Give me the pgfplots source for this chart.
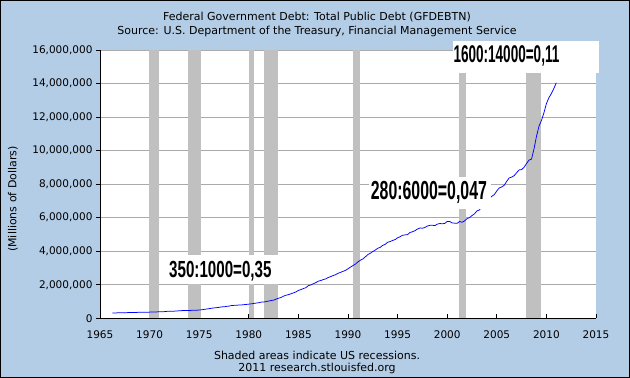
\documentclass[border=0pt]{standalone}
\usepackage{pgfplots}
\pgfplotsset{compat=1.18}
\usepackage{pgfplotstable}
\usepackage{graphicx}
\usepackage{fontspec}
\setmainfont{DejaVu Sans}
\newfontfamily\annf{Liberation Sans}
\definecolor{bgblue}{RGB}{180,205,230}
\definecolor{recgray}{RGB}{192,192,192}
\definecolor{gridgray}{RGB}{170,170,170}

\pgfplotstableread{
year debt
1966.25 321000
1966.50 316000
1966.75 325000
1967.00 329000
1967.25 331000
1967.50 323000
1967.75 338000
1968.00 345000
1968.25 348000
1968.50 348000
1968.75 353000
1969.00 358000
1969.25 361000
1969.50 354000
1969.75 366000
1970.00 368000
1970.25 372000
1970.50 371000
1970.75 383000
1971.00 389000
1971.25 391000
1971.50 398000
1971.75 414000
1972.00 424000
1972.25 427000
1972.50 427000
1972.75 437000
1973.00 449000
1973.25 458000
1973.50 458000
1973.75 468000
1974.00 469000
1974.25 474000
1974.50 475000
1974.75 483000
1975.00 493000
1975.25 509000
1975.50 533000
1975.75 554000
1976.00 576000
1976.25 599000
1976.50 620000
1976.75 635000
1977.00 653000
1977.25 680000
1977.50 685000
1977.75 710000
1978.00 729000
1978.25 760000
1978.50 771000
1978.75 780000
1979.00 789000
1979.25 796000
1979.50 812000
1979.75 827000
1980.00 845000
1980.25 864000
1980.50 883000
1980.75 908000
1981.00 930000
1981.25 964000
1981.50 971000
1981.75 997000
1982.00 1028000
1982.25 1061000
1982.50 1084000
1982.75 1142000
1983.00 1197000
1983.25 1244000
1983.50 1319000
1983.75 1377000
1984.00 1410000
1984.25 1463000
1984.50 1517000
1984.75 1572000
1985.00 1663000
1985.25 1710000
1985.50 1774000
1985.75 1823000
1986.00 1945000
1986.25 1986000
1986.50 2059000
1986.75 2125000
1987.00 2214000
1987.25 2250000
1987.50 2309000
1987.75 2350000
1988.00 2431000
1988.25 2487000
1988.50 2547000
1988.75 2602000
1989.00 2684000
1989.25 2740000
1989.50 2799000
1989.75 2857000
1990.00 2953000
1990.25 3052000
1990.50 3143000
1990.75 3233000
1991.00 3364000
1991.25 3465000
1991.50 3538000
1991.75 3665000
1992.00 3801000
1992.25 3881000
1992.50 3984000
1992.75 4065000
1993.00 4177000
1993.25 4230000
1993.50 4352000
1993.75 4411000
1994.00 4536000
1994.25 4576000
1994.50 4645000
1994.75 4693000
1995.00 4800000
1995.25 4864000
1995.50 4951000
1995.75 4974000
1996.00 4989000
1996.25 5118000
1996.50 5161000
1996.75 5225000
1997.00 5323000
1997.25 5380000
1997.50 5376000
1997.75 5413000
1998.00 5502000
1998.25 5542000
1998.50 5548000
1998.75 5526000
1999.00 5614000
1999.25 5651000
1999.50 5638000
1999.75 5656000
2000.00 5776000
2000.25 5773000
2000.50 5686000
2000.75 5674000
2001.00 5662000
2001.25 5773000
2001.50 5726000
2001.75 5807000
2002.00 5943000
2002.25 6006000
2002.50 6126000
2002.75 6228000
2003.00 6405000
2003.25 6460000
2003.50 6670000
2003.75 6783000
2004.00 6998000
2004.25 7131000
2004.50 7274000
2004.75 7379000
2005.00 7596000
2005.25 7776000
2005.50 7836000
2005.75 7933000
2006.00 8170000
2006.25 8371000
2006.50 8420000
2006.75 8507000
2007.00 8680000
2007.25 8849000
2007.50 8867000
2007.75 9008000
2008.00 9229000
2008.25 9437000
2008.50 9492000
2008.75 10100000
2009.00 10850000
2009.25 11450000
2009.50 11800000
2009.75 12250000
2010.00 12800000
2010.25 13150000
2010.50 13400000
2010.75 13700000
2011.00 14050000
}\debttable

\begin{document}
\begin{tikzpicture}[x=1pt,y=1pt]
\fill[bgblue] (0,0) rectangle (630,378);
\useasboundingbox (0,0) rectangle (630,378);
\begin{axis}[
  at={(100pt,59.7pt)}, anchor=south west, scale only axis,
  width=496pt, height=268.3pt,
  xmin=1965, xmax=2015, ymin=0, ymax=16000000,
  scaled y ticks=false, scaled x ticks=false,
  axis x line*=bottom, axis y line*=left,
  axis line style={black, line width=0.8pt, -},
  axis background/.style={fill=white},
  xtick={1965,1970,1975,1980,1985,1990,1995,2000,2005,2010,2015},
  xticklabels={1965,1970,1975,1980,1985,1990,1995,2000,2005,2010,2015},
  ytick={0,2000000,4000000,6000000,8000000,10000000,12000000,14000000,16000000},
  yticklabels={0,{2,000,000},{4,000,000},{6,000,000},{8,000,000},{10,000,000},{12,000,000},{14,000,000},{16,000,000}},
  xtick align=inside, ytick align=outside,
  major tick length=4pt,
  tick style={black, line width=0.8pt},
  ymajorgrids, grid style={gridgray, line width=0.8pt},
  ticklabel style={font=\fontsize{10.5}{12}\selectfont},
  xticklabel style={yshift=-8.5pt},
  yticklabel style={xshift=0pt},
]
\addplot[fill=recgray, draw=none] coordinates {(1969.95,16000000) (1970.9,16000000)} \closedcycle;
\addplot[fill=recgray, draw=none] coordinates {(1973.85,16000000) (1975.2,16000000)} \closedcycle;
\addplot[fill=recgray, draw=none] coordinates {(1980.0,16000000) (1980.55,16000000)} \closedcycle;
\addplot[fill=recgray, draw=none] coordinates {(1981.5,16000000) (1982.9,16000000)} \closedcycle;
\addplot[fill=recgray, draw=none] coordinates {(1990.5,16000000) (1991.25,16000000)} \closedcycle;
\addplot[fill=recgray, draw=none] coordinates {(2001.15,16000000) (2001.9,16000000)} \closedcycle;
\addplot[fill=recgray, draw=none] coordinates {(2007.9,16000000) (2009.5,16000000)} \closedcycle;
\addplot[blue, line width=0.75pt] table[x=year, y=debt] {\debttable};
\end{axis}
% annotation boxes
\fill[white] (164,94) rectangle (282,123.3);
\fill[white] (369,169) rectangle (490.5,201.3);
\fill[white] (452.7,305.3) rectangle (599,337);
\node[anchor=base west, inner sep=0] at (169,100.7) {\scalebox{0.65}[1]{\annf\bfseries\fontsize{23.3}{24}\selectfont 350:1000=0,35}};
\node[anchor=base west, inner sep=0] at (370.7,178.7) {\scalebox{0.608}[1]{\annf\bfseries\fontsize{26.1}{27}\selectfont 280:6000=0,047}};
\node[anchor=base west, inner sep=0] at (453.3,315.7) {\scalebox{0.56}[1]{\annf\bfseries\fontsize{24.2}{25}\selectfont 1600:14000=0,11}};
% texts
\node[font=\fontsize{11}{13}\selectfont] at (317,361) {Federal Government Debt: Total Public Debt (GFDEBTN)};
\node[font=\fontsize{11}{13}\selectfont] at (317,347) {Source: U.S. Department of the Treasury, Financial Management Service};
\node[font=\fontsize{11}{13}\selectfont, rotate=90] at (13,179) {(Millions of Dollars)};
\node[font=\fontsize{11}{13}\selectfont] at (317,22.5) {Shaded areas indicate US recessions.};
\node[font=\fontsize{11}{13}\selectfont] at (317,9.7) {2011 research.stlouisfed.org};
\draw[black, line width=1.2pt] (0.6,0.6) rectangle (629.4,377.4);
\end{tikzpicture}
\end{document}
